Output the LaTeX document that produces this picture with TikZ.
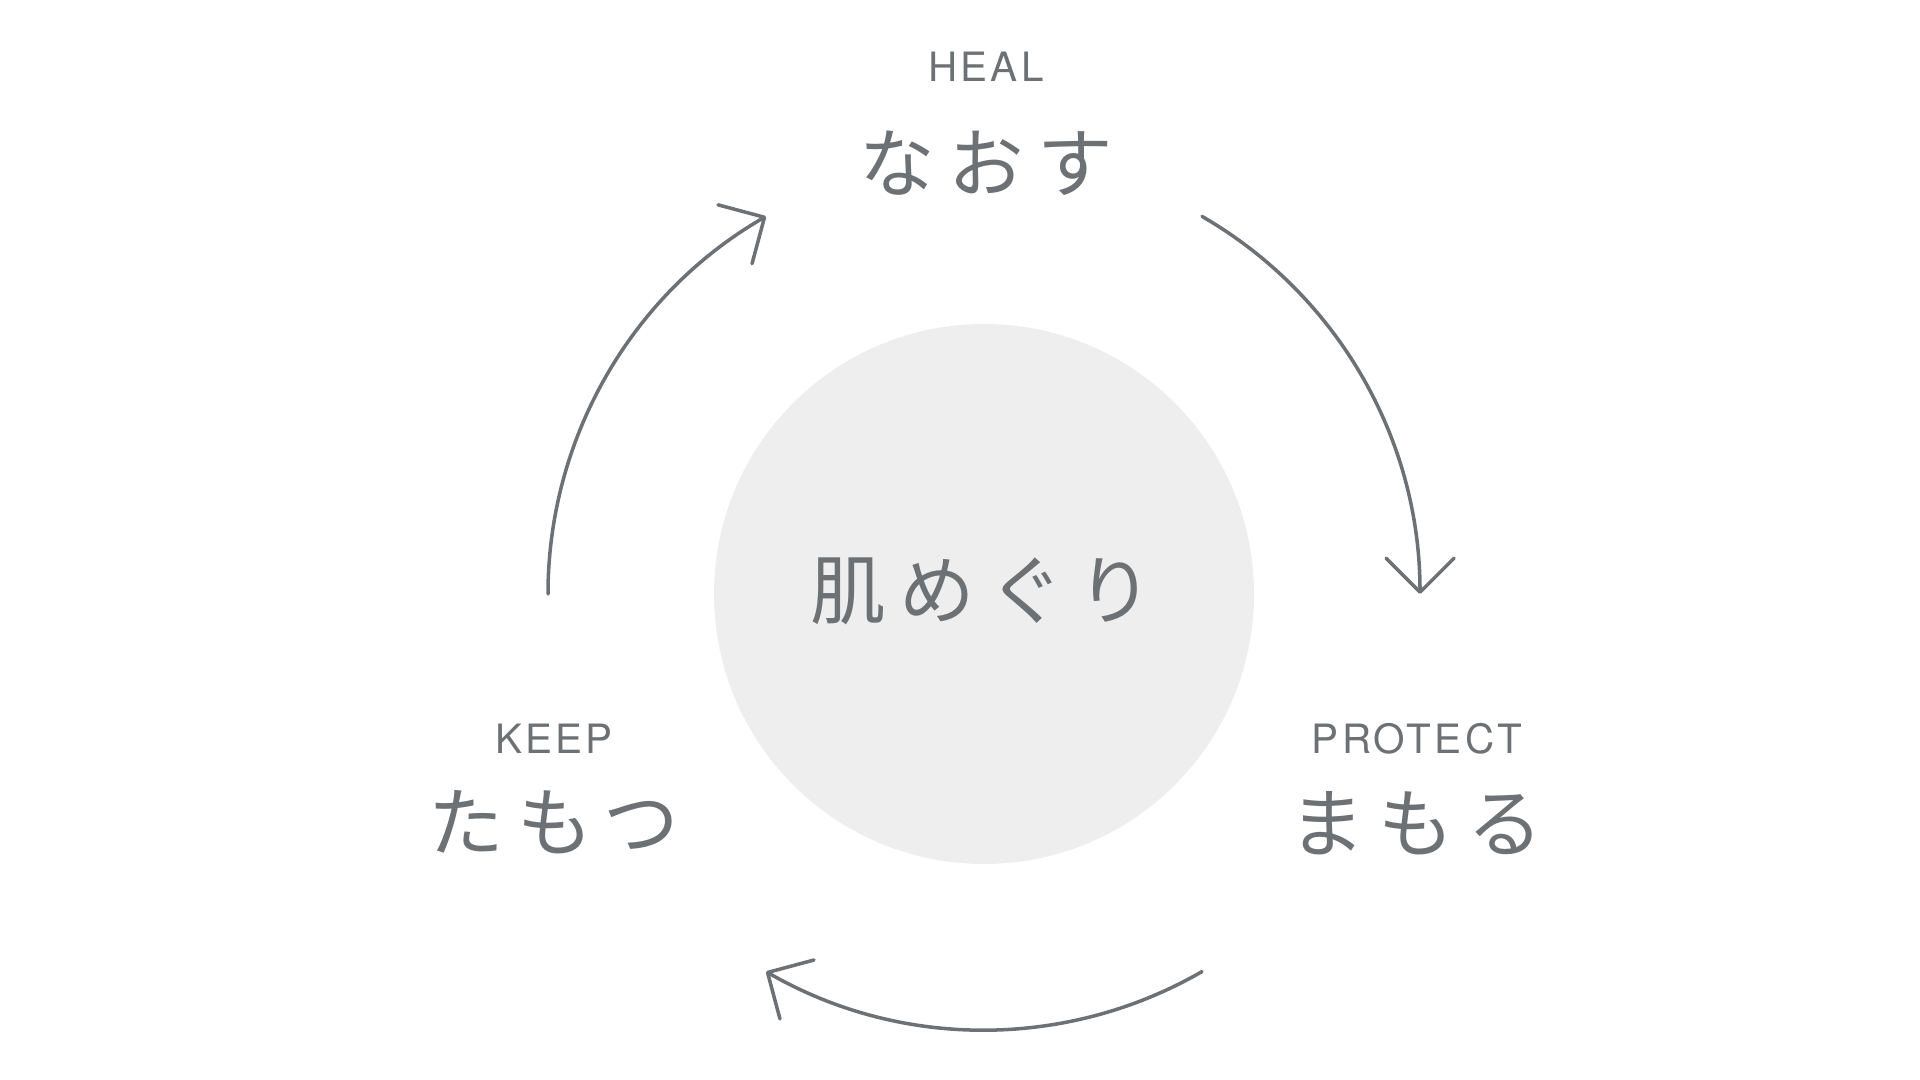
\documentclass[tikz,border=0pt]{standalone}
\usepackage{fontspec}
\usepackage{xcolor}
\usepackage{tikz}
\usetikzlibrary{arrows.meta}
\setmainfont{TeX Gyre Heros}
\newfontfamily\jpfont[LetterSpace=18]{Noto Sans CJK JP}
\newfontfamily\enfont[LetterSpace=8]{TeX Gyre Heros}
\definecolor{inkgray}{HTML}{6B7175}
\definecolor{discgray}{HTML}{EEEEEE}
\tikzset{
  en/.style={text=inkgray, inner sep=0pt, font=\enfont\fontsize{11.5}{14}\selectfont},
  jp/.style={text=inkgray, inner sep=0pt, font=\jpfont\fontsize{21.5}{26}\selectfont},
  disc/.style={circle, fill=discgray, minimum size=5.4cm, inner sep=0pt},
  flow/.style={draw=inkgray, line width=1pt, line cap=round,
    -{Straight Barb[length=3.4mm, width=6.8mm, round]}}
}
\begin{document}
\begin{tikzpicture}
  \useasboundingbox (0,0) rectangle (19.2,10.8);
  % Define nodes
  \node[disc] (skin) at (9.84,4.86) {};
  \node[jp] (skinjp) at (9.82,4.885) {肌めぐり};
  \node[en] (heal) at (9.86,10.135) {HEAL};
  \node[jp] (healjp) at (9.86,9.165) {なおす};
  \node[en] (keep) at (5.54,3.415) {KEEP};
  \node[jp] (keepjp) at (5.54,2.575) {たもつ};
  \node[en] (protect) at (14.17,3.415) {PROTECT};
  \node[jp] (protectjp) at (14.16,2.57) {まもる};
  % Arrows
  \draw[flow] ([shift={(180:4.36)}]skin.center) arc[start angle=180, end angle=120, radius=4.36];
  \draw[flow] ([shift={(60:4.36)}]skin.center) arc[start angle=60, end angle=0, radius=4.36];
  \draw[flow] ([shift={(300:4.36)}]skin.center) arc[start angle=300, end angle=240, radius=4.36];
\end{tikzpicture}
\end{document}
